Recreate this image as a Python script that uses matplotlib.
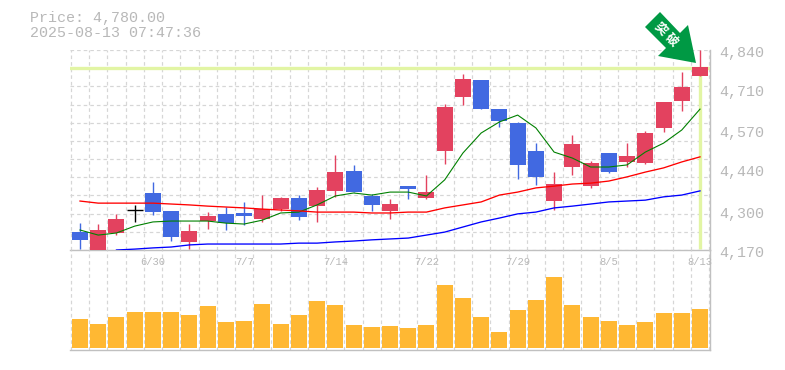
import numpy as np
import matplotlib
matplotlib.use("Agg")
import matplotlib.pyplot as plt
from matplotlib.patches import Polygon

opens = [4230,4170,4227,4303,4361,4301,4197,4267,4291,4294,4274,4307,4344,4317,4368,4435,4351,4301,4384,4344,
         4502,4683,4740,4642,4595,4502,4334,4448,4384,4495,4465,4461,4579,4669,4753]
closes = [4204,4237,4274,4303,4297,4214,4234,4284,4260,4284,4307,4344,4281,4371,4431,4364,4321,4324,4374,4364,
          4649,4743,4642,4602,4455,4415,4391,4525,4461,4431,4485,4562,4666,4716,4783]
highs = [4260,4257,4291,4320,4398,4301,4257,4297,4313,4331,4354,4348,4354,4381,4488,4455,4358,4341,4384,4421,
         4659,4760,4740,4642,4599,4528,4431,4555,4468,4495,4528,4569,4666,4766,4840]
lows = [4173,4170,4220,4265,4287,4200,4173,4240,4237,4254,4264,4301,4270,4264,4348,4364,4301,4274,4341,4341,
        4458,4656,4642,4582,4408,4388,4304,4421,4378,4428,4448,4458,4565,4636,4753]
ma_short = [4237,4220,4227,4250,4264,4267,4267,4267,4260,4257,4270,4294,4297,4321,4351,4361,4354,4364,4364,4351,
            4405,4495,4562,4599,4622,4579,4498,4478,4448,4448,4455,4498,4528,4572,4642]
ma_mid = [4334,4327,4327,4327,4327,4324,4321,4317,4314,4311,4307,4304,4301,4297,4297,4297,4294,4294,4297,4297,
          4311,4321,4331,4354,4364,4378,4384,4391,4394,4401,4415,4431,4445,4465,4482]
ma_long = [np.nan,np.nan,4170,4173,4177,4180,4187,4190,4190,4190,4190,4190,4193,4193,4197,4200,4204,4207,4210,4220,
           4230,4247,4264,4277,4291,4297,4311,4317,4324,4331,4334,4337,4348,4354,4368]
volumes = [29,24,31,36,36,36,33,42,26,27,44,24,33,47,43,23,21,22,20,23,63,50,31,16,38,48,71,43,31,27,23,26,35,35,39]
date_labels = {4:"6/30", 9:"7/7", 14:"7/14", 19:"7/22", 24:"7/29", 29:"8/5", 34:"8/13"}
price_labels = [4840,4710,4570,4440,4300,4170]
last_price = 4780

W, H = 785, 370
MONO = "Liberation Mono"
TXT = "#b8b8b8"
GRID = "#d6d6d6"
AXC = "#c0c0c0"
UP = "#e3425f"
DOWN = "#4169e1"
HL = "#e2f5a4"
PX = 0.72

fig = plt.figure(figsize=(W/100, H/100), dpi=100, facecolor="white")
def axpos(l, t, r, b):
    return [l/W, 1-b/H, (r-l)/W, (b-t)/H]
ax = fig.add_axes(axpos(70, 50, 710, 250))
vx = fig.add_axes(axpos(70, 250, 710, 350))
x = np.arange(len(opens))
xlim = (-0.548, 34.548)
gridx = np.arange(0, 36) - 0.5

for a in (ax, vx):
    a.set_xlim(*xlim)
    a.set_xticks([])
    a.set_yticks([])
    a.patch.set_alpha(0)
    for s in ("top", "left"):
        a.spines[s].set_visible(False)
    for s in ("right", "bottom"):
        a.spines[s].set_color(AXC)
        a.spines[s].set_linewidth(1.0)
    a.vlines(gridx, 0, 1, transform=a.get_xaxis_transform(), colors=GRID,
             linewidth=PX*1.2, linestyles=(0, (3, 2.5)), zorder=0)

ax.set_ylim(4170, 4840)
ax.hlines(np.linspace(4170, 4840, 12), 0, 1, transform=ax.get_yaxis_transform(), colors=GRID,
          linewidth=PX*1.2, linestyles=(0, (3, 2.5)), zorder=0)

ax.axhline(last_price, color=HL, linewidth=2.4, zorder=1)
ax.vlines(x[-1], 4173, last_price, color=HL, linewidth=2.4, zorder=1)

o, c, h, l = map(np.array, (opens, closes, highs, lows))
colors = [UP if cc > oo else DOWN if cc < oo else "black" for oo, cc in zip(o, c)]
ax.vlines(x, l, h, colors=colors, linewidth=1.0, zorder=3)
mask = c != o
ax.bar(x[mask], np.abs(c - o)[mask], bottom=np.minimum(o, c)[mask], width=0.875,
       color=[k for k, m in zip(colors, mask) if m], zorder=3, linewidth=0)
ax.hlines(o[~mask], x[~mask]-0.44, x[~mask]+0.44, colors="black", linewidth=1.0, zorder=3)

ax.plot(x, ma_short, color="#008000", linewidth=0.8, zorder=4)
ax.plot(x, ma_mid, color="#ff0000", linewidth=0.95, zorder=4)
ax.plot(x, ma_long, color="#0000ff", linewidth=0.95, zorder=4)

for p in price_labels:
    ax.annotate(f"{p:,}", xy=(1, p), xycoords=("axes fraction", "data"), xytext=(7.0, -2.0),
                textcoords="offset points", ha="left", va="center",
                family=MONO, fontsize=10.8, color=TXT, annotation_clip=False)

vx.set_ylim(-2, 98)
vx.bar(x, volumes, width=0.875, color="#ffb833", linewidth=0, zorder=2)
for i, t in date_labels.items():
    vx.annotate(t, xy=(i, 1), xycoords=("data", "axes fraction"), xytext=(0, -8.6),
                textcoords="offset points", ha="center", va="center",
                family=MONO, fontsize=7.6, color=TXT, annotation_clip=False)

fig.text(30/W, 1-18/H, f"Price: {last_price:,}.00", family=MONO, fontsize=10.8, color=TXT, va="center")
fig.text(30/W, 1-33/H, "2025-08-13 07:47:36", family=MONO, fontsize=10.8, color=TXT, va="center")

arrow_px = [(660, 12), (680, 33), (688, 25), (696, 63), (658, 56), (666, 48), (645, 27)]
fig.add_artist(Polygon([(px/W, 1-py/H) for px, py in arrow_px], closed=True,
                       transform=fig.transFigure, facecolor="#009944", edgecolor="none", zorder=6))
fig.text(666/W, 1-34.5/H, "突 破", family=["Noto Sans CJK JP", "DejaVu Sans"], fontsize=9, weight="bold",
         color="white", rotation=-45, rotation_mode="anchor", ha="center", va="center", zorder=7)

fig.savefig("out.png", dpi=100)
